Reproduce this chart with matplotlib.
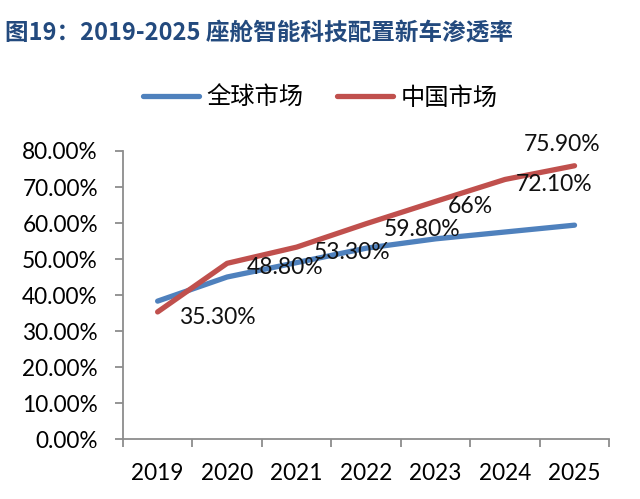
import numpy as np
import matplotlib
matplotlib.use('Agg')
import matplotlib.pyplot as plt

years = ['2019', '2020', '2021', '2022', '2023', '2024', '2025']
global_mkt = [38.3, 45.0, 49.0, 53.0, 55.6, 57.5, 59.4]
china_mkt = [35.3, 48.8, 53.3, 59.8, 66.0, 72.1, 75.9]
china_labels = ['35.30%', '48.80%', '53.30%', '59.80%', '66%', '72.10%', '75.90%']

# label offsets in points (the source chart has them shifted oddly)
label_off = [(43, -4), (42, -3), (40, -4), (40, -4), (25, -4), (35, -4), (-9, 15)]

blue = '#4F81BD'
red = '#C0504D'
grey = '#8C8C8C'
num_font = ['Lato', 'DejaVu Sans']
cjk_font = ['Noto Sans CJK SC', 'DejaVu Sans']

fig = plt.figure(figsize=(6.4, 4.99), dpi=100)
ax = fig.add_axes([0.192, 0.1202, 0.760, 0.5772])

x = np.arange(len(years))
l1, = ax.plot(x, global_mkt, color=blue, lw=3.8, solid_capstyle='round', solid_joinstyle='round', label='全球市场')
l2, = ax.plot(x, china_mkt, color=red, lw=3.8, solid_capstyle='round', solid_joinstyle='round', label='中国市场')

for i, (v, t) in enumerate(zip(china_mkt, china_labels)):
    ax.annotate(t, (i, v), xytext=label_off[i], textcoords='offset points',
                ha='center', va='center', fontsize=16.5, family=num_font, color='#111111')

ax.set_xlim(-0.5, len(years) - 0.5)
ax.set_ylim(0, 80)
ax.set_yticks(np.arange(0, 81, 10))
ax.set_yticklabels(['%.2f%%' % v for v in np.arange(0, 81, 10)], family=num_font, fontsize=16.3)
ax.set_xticks(x)
ax.set_xticklabels(years, family=num_font, fontsize=16.3)
ax.set_xticks(np.arange(-0.5, len(years), 1), minor=True)
ax.tick_params(axis='x', which='major', length=0, pad=17)
ax.tick_params(axis='x', which='minor', length=6, width=1.3, color=grey, direction='out')
ax.tick_params(axis='y', length=6, width=1.3, color=grey, direction='out', pad=12)

for s in ['top', 'right']:
    ax.spines[s].set_visible(False)
for s in ['left', 'bottom']:
    ax.spines[s].set_color(grey)
    ax.spines[s].set_linewidth(1.3)

fig.legend(handles=[l1, l2], loc='center', bbox_to_anchor=(0.5, 0.804), ncol=2,
           frameon=False, prop={'family': cjk_font, 'size': 17.5},
           handlelength=2.3, handletextpad=0.3, columnspacing=1.4)

fig.text(0.008, 1 - 33 / 499, '图19：2019-2025 座舱智能科技配置新车渗透率', family=cjk_font,
         fontsize=17, fontweight='bold', color='#234A7E', ha='left', va='center')

fig.savefig('out.png', dpi=100)
